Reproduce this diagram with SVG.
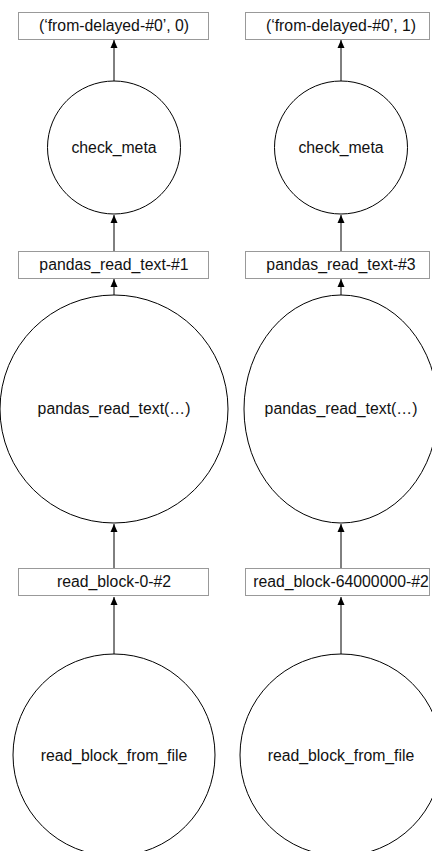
<svg xmlns="http://www.w3.org/2000/svg" width="432" height="851" viewBox="0 0 432 851">
<style>
.box{fill:#fff;stroke:#999;stroke-width:1}
.fn{fill:#fff;stroke:#000;stroke-width:1}
.lbl{font-family:"Liberation Sans",Arial,sans-serif;font-size:15.8px;fill:#111;text-anchor:middle}
.edge{stroke:#000;stroke-width:1;fill:none;marker-end:url(#arr)}
</style>
<defs>
<marker id="arr" viewBox="0 0 8 10" refX="8" refY="5" markerWidth="8" markerHeight="10" orient="auto" markerUnits="userSpaceOnUse">
<path d="M0,1.5 L8,5 L0,8.5 Z" fill="#000"/>
</marker>
</defs>
<rect width="432" height="851" fill="#fff"/>
<g id="edges">
<line class="edge" x1="114" y1="81" x2="114" y2="40"/>
<line class="edge" x1="114" y1="251" x2="114" y2="215"/>
<line class="edge" x1="114" y1="295" x2="114" y2="279"/>
<line class="edge" x1="114" y1="568" x2="114" y2="524"/>
<line class="edge" x1="114" y1="654" x2="114" y2="597"/>
<line class="edge" x1="341" y1="81" x2="341" y2="40"/>
<line class="edge" x1="341" y1="251" x2="341" y2="215"/>
<line class="edge" x1="341" y1="295" x2="341" y2="279"/>
<line class="edge" x1="341" y1="568" x2="341" y2="524"/>
<line class="edge" x1="341" y1="654" x2="341" y2="597"/>
</g>
<g id="out0"><rect class="box" x="18.5" y="12.5" width="190" height="27"/><text class="lbl" x="114" y="31">(‘from-delayed-#0’, 0)</text></g>
<g id="out1"><rect class="box" x="245.5" y="12.5" width="184" height="27"/><text class="lbl" x="341" y="31">(‘from-delayed-#0’, 1)</text></g>
<g id="check0"><circle class="fn" cx="114" cy="147.5" r="66.5"/><text class="lbl" x="114" y="153">check_meta</text></g>
<g id="check1"><circle class="fn" cx="341" cy="147.5" r="66.5"/><text class="lbl" x="341" y="153">check_meta</text></g>
<g id="prt1"><rect class="box" x="18.5" y="251.5" width="190" height="27"/><text class="lbl" x="114" y="270">pandas_read_text-#1</text></g>
<g id="prt3"><rect class="box" x="245.5" y="251.5" width="184" height="27"/><text class="lbl" x="341" y="270">pandas_read_text-#3</text></g>
<g id="prtf0"><circle class="fn" cx="114" cy="409" r="114"/><text class="lbl" x="114" y="414">pandas_read_text(…)</text></g>
<g id="prtf1"><ellipse class="fn" cx="341" cy="409" rx="97" ry="114"/><text class="lbl" x="341" y="414">pandas_read_text(…)</text></g>
<g id="rb0"><rect class="box" x="18.5" y="568.5" width="190" height="27"/><text class="lbl" x="114" y="587">read_block-0-#2</text></g>
<g id="rb1"><rect class="box" x="245.5" y="568.5" width="184" height="27"/><text class="lbl" x="341" y="587">read_block-64000000-#2</text></g>
<g id="rbf0"><circle class="fn" cx="114" cy="755" r="101"/><text class="lbl" x="114" y="761">read_block_from_file</text></g>
<g id="rbf1"><circle class="fn" cx="341" cy="755" r="101"/><text class="lbl" x="341" y="761">read_block_from_file</text></g>
</svg>
